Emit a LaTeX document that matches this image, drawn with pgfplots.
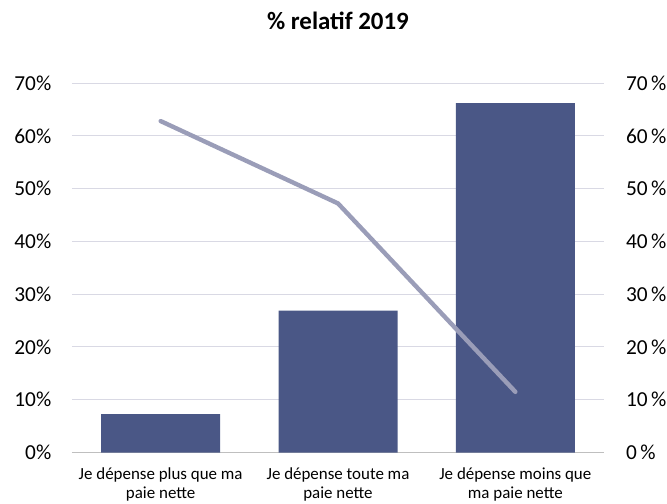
\documentclass[border=0pt]{standalone}
\usepackage{fontspec}
\setmainfont{Carlito}
\usepackage{pgfplots}
\pgfplotsset{compat=1.18}

\definecolor{barblue}{HTML}{4A5786}
\definecolor{linegray}{HTML}{9A9DB8}
\definecolor{gridgray}{HTML}{D9D9E4}
\definecolor{axisgray}{HTML}{BFBFBF}

\begin{document}
\begin{tikzpicture}
\useasboundingbox (-54pt,-37.9pt) rectangle (446.25pt,339.4pt);

\begin{axis}[
 at={(0pt,0pt)}, anchor=south west,
 scale only axis,
 width=399pt, height=277.1pt,
 xmin=-0.5, xmax=2.5,
 ymin=0, ymax=70,
 axis x line*=bottom,
 axis y line*=left,
 y axis line style={draw=none},
 x axis line style={draw=axisgray, line width=0.75pt},
 ytick={0,10,...,70},
 yticklabels={0\%,10\%,20\%,30\%,40\%,50\%,60\%,70\%},
 ytick style={draw=none},
 yticklabel style={font=\fontsize{16}{19}\selectfont, xshift=-12pt},
 xtick={0,1,2},
 xticklabels={Je dépense plus que ma\\paie nette,
   Je dépense toute ma\\paie nette,
   Je dépense moins que\\ma paie nette},
 xticklabel style={font=\fontsize{12.7}{14.25}\selectfont, align=center, yshift=-8pt},
 xtick style={draw=none},
 extra x ticks={-0.5,0.5,1.5,2.5},
 extra x tick labels={},
 extra x tick style={tick align=outside, major tick length=4pt,
   tick style={draw=axisgray, line width=0.75pt}, grid=none},
 ymajorgrids=true,
 grid style={draw=gridgray, line width=0.75pt},
 title={\textbf{\% relatif 2019}},
 title style={font=\fontsize{18.7}{22}\selectfont, at={(0.5,1)}, anchor=center, yshift=41pt},
 clip=false,
]
\addplot[ybar, bar width=89.25pt, fill=barblue, draw=none] coordinates {
 (0,7.3) (1,26.9) (2,66.2)
};
\addplot[color=linegray, line width=3.3pt, line cap=round, line join=round, mark=none] coordinates {
 (0,62.8) (1,47.2) (2,11.5)
};
\end{axis}

\begin{axis}[
 at={(0pt,0pt)}, anchor=south west,
 scale only axis,
 width=399pt, height=277.1pt,
 xmin=-0.5, xmax=2.5,
 ymin=0, ymax=70,
 axis x line=none,
 axis y line*=right,
 y axis line style={draw=none},
 ytick={0,10,...,70},
 yticklabels={0\,\%,10\,\%,20\,\%,30\,\%,40\,\%,50\,\%,60\,\%,70\,\%},
 ytick style={draw=none},
 yticklabel style={font=\fontsize{16}{19}\selectfont, xshift=13pt},
]
\end{axis}
\end{tikzpicture}
\end{document}
